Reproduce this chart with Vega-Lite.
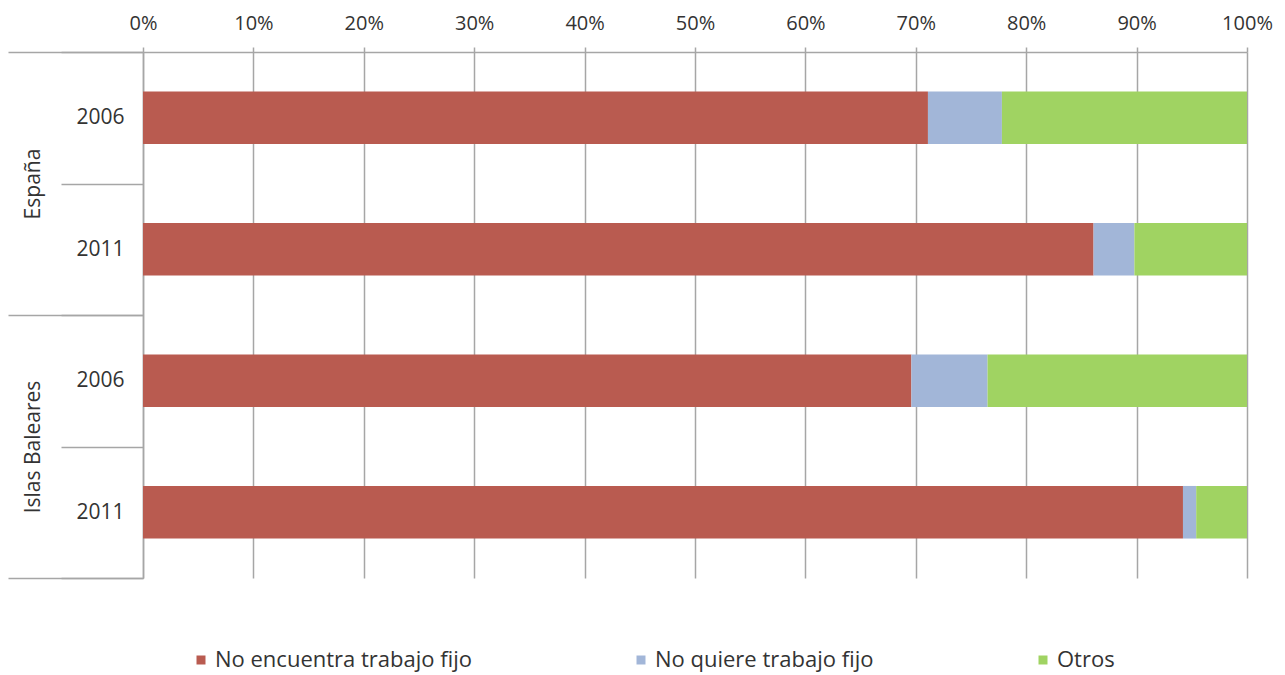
{
  "$schema": "https://vega.github.io/schema/vega-lite/v6.json",
  "autosize": {"type": "none"},
  "width": 1104,
  "height": 526,
  "padding": {"left": 143, "top": 52, "right": 38, "bottom": 97},
  "background": "white",
  "config": {
    "font": "Open Sans",
    "view": {"stroke": null},
    "axis": {"labelColor": "#333333", "labelFont": "Open Sans"},
    "legend": {"labelColor": "#333333", "labelFont": "Open Sans"}
  },
  "data": {
    "values": [
      {"group": "España", "year": "2006", "key": "España|2006", "category": "No encuentra trabajo fijo", "value": 71.1},
      {"group": "España", "year": "2006", "key": "España|2006", "category": "No quiere trabajo fijo", "value": 6.7},
      {"group": "España", "year": "2006", "key": "España|2006", "category": "Otros", "value": 22.2},
      {"group": "España", "year": "2011", "key": "España|2011", "category": "No encuentra trabajo fijo", "value": 86.1},
      {"group": "España", "year": "2011", "key": "España|2011", "category": "No quiere trabajo fijo", "value": 3.7},
      {"group": "España", "year": "2011", "key": "España|2011", "category": "Otros", "value": 10.2},
      {"group": "Islas Baleares", "year": "2006", "key": "Islas Baleares|2006", "category": "No encuentra trabajo fijo", "value": 69.6},
      {"group": "Islas Baleares", "year": "2006", "key": "Islas Baleares|2006", "category": "No quiere trabajo fijo", "value": 6.9},
      {"group": "Islas Baleares", "year": "2006", "key": "Islas Baleares|2006", "category": "Otros", "value": 23.5},
      {"group": "Islas Baleares", "year": "2011", "key": "Islas Baleares|2011", "category": "No encuentra trabajo fijo", "value": 94.2},
      {"group": "Islas Baleares", "year": "2011", "key": "Islas Baleares|2011", "category": "No quiere trabajo fijo", "value": 1.2},
      {"group": "Islas Baleares", "year": "2011", "key": "Islas Baleares|2011", "category": "Otros", "value": 4.6}
    ]
  },
  "layer": [
    {
      "mark": {"type": "bar", "height": {"band": 0.4}},
      "encoding": {
        "y": {
          "field": "key",
          "type": "nominal",
          "sort": ["España|2006", "España|2011", "Islas Baleares|2006", "Islas Baleares|2011"],
          "scale": {"paddingInner": 0, "paddingOuter": 0},
          "axis": {
            "orient": "left",
            "title": null,
            "labelExpr": "split(datum.label, '|')[1]",
            "tickBand": "extent",
            "tickSize": 82,
            "tickColor": "#A6A6A6",
            "tickWidth": 1.5,
            "domainColor": "#A6A6A6",
            "domainWidth": 1.5,
            "labelPadding": -63,
            "labelFontSize": 21,
            "labelAlign": "right",
            "labelBaseline": "middle"
          }
        },
        "x": {
          "field": "value",
          "type": "quantitative",
          "stack": "normalize",
          "scale": {"domain": [0, 1]},
          "axis": {
            "orient": "top",
            "title": null,
            "format": ".0%",
            "values": [0, 0.1, 0.2, 0.3, 0.4, 0.5, 0.6, 0.7, 0.8, 0.9, 1],
            "grid": true,
            "gridColor": "#A6A6A6",
            "gridWidth": 1.5,
            "tickSize": 5,
            "tickColor": "#A6A6A6",
            "tickWidth": 1.5,
            "domainColor": "#A6A6A6",
            "domainWidth": 1.5,
            "labelFontSize": 20,
            "labelPadding": 14,
            "labelFlush": false
          }
        },
        "color": {
          "field": "category",
          "type": "nominal",
          "scale": {
            "domain": ["No encuentra trabajo fijo", "No quiere trabajo fijo", "Otros"],
            "range": ["#B95B50", "#A2B6D8", "#A0D362"]
          },
          "legend": {
            "orient": "none",
            "legendX": 47,
            "legendY": 597,
            "direction": "horizontal",
            "columns": 3,
            "columnPadding": 158,
            "symbolType": "square",
            "symbolSize": 81,
            "symbolStrokeWidth": 0,
            "labelFontSize": 22,
            "labelOffset": 3,
            "labelLimit": 400,
            "title": null
          }
        }
      }
    },
    {
      "mark": {"type": "rule", "strokeOpacity": 0},
      "encoding": {
        "y": {
          "field": "group",
          "type": "nominal",
          "sort": ["España", "Islas Baleares"],
          "scale": {"type": "band", "paddingInner": 0, "paddingOuter": 0},
          "axis": {
            "orient": "left",
            "title": null,
            "tickBand": "extent",
            "tickSize": 135,
            "tickColor": "#A6A6A6",
            "tickWidth": 1.5,
            "domain": false,
            "labelAngle": -90,
            "labelAlign": "center",
            "labelBaseline": "alphabetic",
            "labelPadding": -31,
            "labelFontSize": 21
          }
        }
      }
    }
  ],
  "resolve": {"scale": {"y": "independent"}, "axis": {"y": "independent"}}
}
